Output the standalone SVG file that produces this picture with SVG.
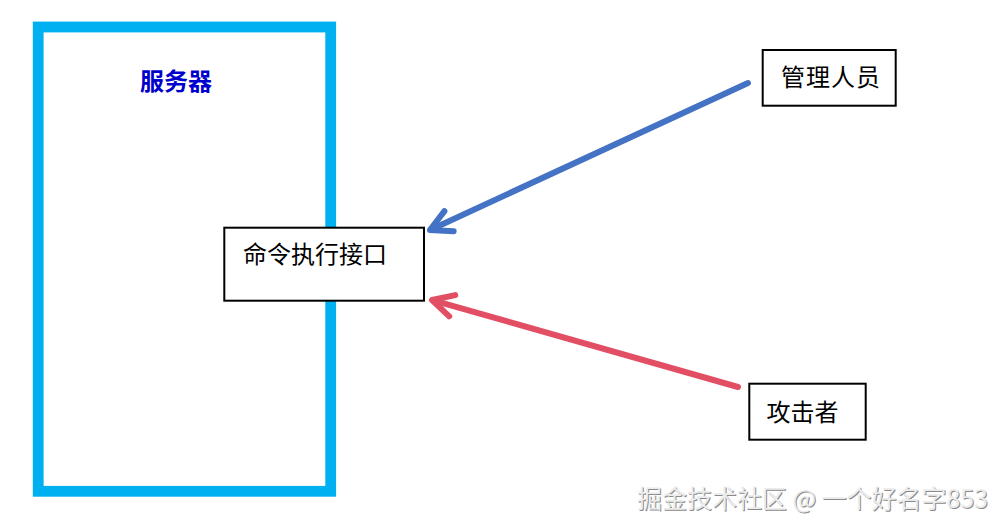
<svg xmlns="http://www.w3.org/2000/svg" width="1007" height="532" viewBox="0 0 1007 532">
  <style>
    .box { fill: #ffffff; stroke: #000000; stroke-width: 2; }
    .lbl { font-family: "Noto Sans CJK SC", "Noto Sans", sans-serif; font-size: 24px; fill: #000000; }
    .conn { fill: none; stroke-width: 6; stroke-linecap: round; stroke-linejoin: round; }
    .wm { font-family: "Noto Sans CJK SC", "Noto Sans", sans-serif; font-size: 25px; }
  </style>
  <defs>
    <marker id="headBlue" markerUnits="userSpaceOnUse" markerWidth="40" markerHeight="40" refX="-3" refY="0" orient="auto" overflow="visible" viewBox="-30 -20 40 40">
      <path d="M-21,-11 L0,0 L-21,11" fill="none" stroke="#4472C4" stroke-width="6" stroke-linecap="round" stroke-linejoin="round"/>
    </marker>
    <marker id="headRed" markerUnits="userSpaceOnUse" markerWidth="40" markerHeight="40" refX="-3" refY="0" orient="auto" overflow="visible" viewBox="-30 -20 40 40">
      <path d="M-21,-11 L0,0 L-21,11" fill="none" stroke="#E24F64" stroke-width="6" stroke-linecap="round" stroke-linejoin="round"/>
    </marker>
  </defs>
  <rect width="1007" height="532" fill="#ffffff"/>

  <g id="server">
    <rect x="38.2" y="27" width="292.5" height="464.3" fill="none" stroke="#00B0F0" stroke-width="10.8"/>
    <text x="140" y="89.5" font-family="Noto Sans CJK SC, sans-serif" font-size="24" font-weight="bold" fill="#0000CC">服务器</text>
  </g>

  <g id="connectors">
    <line class="conn" x1="748" y1="83" x2="432.7" y2="228.7" stroke="#4472C4" marker-end="url(#headBlue)"/>
    <line class="conn" x1="738" y1="387" x2="434.9" y2="300.8" stroke="#E24F64" marker-end="url(#headRed)"/>
  </g>

  <g id="cmd">
    <rect class="box" x="224.3" y="227.7" width="199.7" height="73"/>
    <text class="lbl" x="243" y="263">命令执行接口</text>
  </g>

  <g id="admin">
    <rect class="box" x="762.7" y="50" width="133" height="55.7"/>
    <text class="lbl" x="781" y="85.7" letter-spacing="1">管理人员</text>
  </g>

  <g id="attacker">
    <rect class="box" x="749.3" y="383.7" width="116.4" height="56"/>
    <text class="lbl" x="766.5" y="420.7">攻击者</text>
  </g>

  <g id="watermark">
    <text class="wm" x="638" y="509" textLength="351" lengthAdjust="spacing" fill="#8a8a8a">掘金技术社区 @ 一个好名字853</text>
    <text class="wm" x="637" y="508" textLength="351" lengthAdjust="spacing" fill="#ececec">掘金技术社区 @ 一个好名字853</text>
  </g>
</svg>
